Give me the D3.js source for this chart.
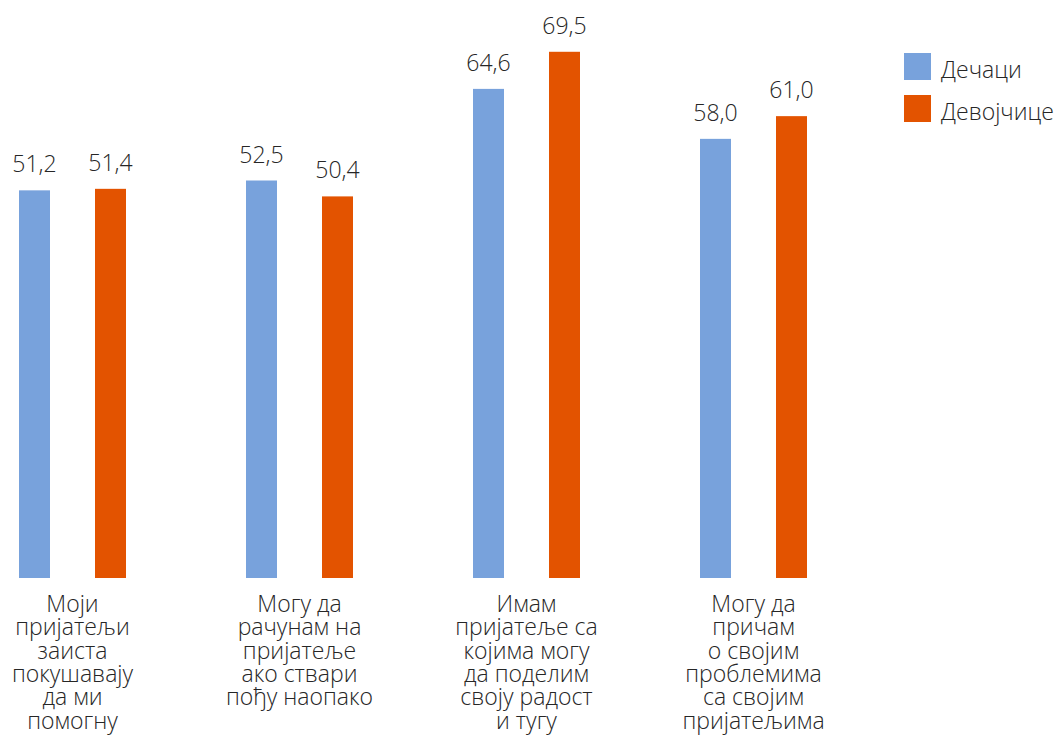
<!DOCTYPE html>
<html><head><meta charset="utf-8">
<script src="https://cdn.jsdelivr.net/npm/d3@7"></script>
<style>
html,body{margin:0;padding:0;background:#fff;}
svg text{font-family:"Open Sans","Noto Sans",sans-serif;font-weight:300;fill:#262626;}
</style></head>
<body>
<svg id="c" width="1059" height="736"></svg>
<script>
const categories = [
  ["Моји","пријатељи","заиста","покушавају","да ми","помогну"],
  ["Могу да","рачунам на","пријатеље","ако ствари","пођу наопако"],
  ["Имам","пријатеље са","којима могу","да поделим","своју радост","и тугу"],
  ["Могу да","причам","о својим","проблемима","са својим","пријатељима"]
];
const seriesNames = ["Дечаци","Девојчице"];
const boys  = [51.2, 52.5, 64.6, 58.0];
const girls = [51.4, 50.4, 69.5, 61.0];
const colors = ["#78A2DC","#E35300"];

const svg = d3.select("#c");
const baseY = 578;
const y = d3.scaleLinear().domain([0,70]).range([baseY, baseY-530]);
const x0 = d3.scaleBand().domain(d3.range(categories.length)).range([-41, 867]).padding(0);
// sub-band: two bars of width 31 separated by a gap of 45
const sub = d3.scaleBand().domain(seriesNames).range([0,107]).paddingInner(45/76).paddingOuter(0);
const fmt = v => v.toFixed(1).replace(".", ",");

const data = categories.map((c,i)=>({i, vals:[boys[i], girls[i]]}));
const g = svg.selectAll("g.grp").data(data).join("g")
  .attr("transform", d => `translate(${x0(d.i) + x0.bandwidth()/2 - 53.5},0)`);

g.selectAll("rect").data(d => d.vals.map((v,k)=>({v,k}))).join("rect")
  .attr("x", d => sub(seriesNames[d.k]))
  .attr("width", sub.bandwidth())
  .attr("y", d => y(d.v))
  .attr("height", d => baseY - y(d.v))
  .attr("fill", d => colors[d.k]);

g.selectAll("text.val").data(d => d.vals.map((v,k)=>({v,k}))).join("text")
  .attr("class","val")
  .attr("x", d => sub(seriesNames[d.k]) + sub.bandwidth()/2)
  .attr("y", d => y(d.v) - 18)
  .attr("text-anchor","middle")
  .attr("font-size", 23)
  .text(d => fmt(d.v));

// category labels
const lab = svg.selectAll("text.cat").data(categories).join("text")
  .attr("class","cat")
  .attr("text-anchor","middle")
  .attr("font-size", 23);
lab.each(function(lines,i){
  const cx = x0(i) + x0.bandwidth()/2;
  d3.select(this).selectAll("tspan").data(lines).join("tspan")
    .attr("x", cx)
    .attr("y", (d,j) => 612 + j*23.3)
    .text(d => d);
});

// legend
const leg = svg.selectAll("g.leg").data(seriesNames).join("g")
  .attr("transform", (d,i) => `translate(904,${53 + i*42})`);
leg.append("rect").attr("width",27).attr("height",27).attr("fill",(d,i)=>colors[i]);
leg.append("text").attr("x",37).attr("y",25).attr("font-size",23).text(d=>d);
</script>
</body></html>
